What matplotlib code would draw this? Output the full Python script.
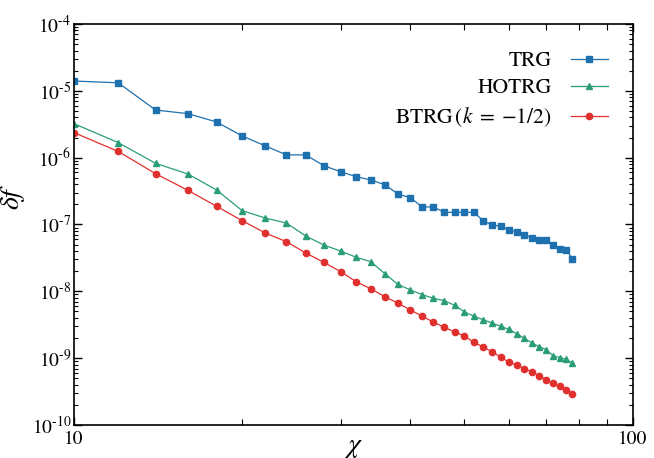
import numpy as np
import matplotlib
matplotlib.use("Agg")
import matplotlib.pyplot as plt
from matplotlib.ticker import FuncFormatter, NullFormatter, LogLocator

chi = list(range(10, 80, 2))

trg = [1.40e-5, 1.32e-5, 5.16e-6, 4.55e-6, 3.42e-6, 2.11e-6, 1.50e-6, 1.10e-6, 1.10e-6, 7.59e-7,
       6.16e-7, 5.19e-7, 4.63e-7, 3.94e-7, 2.86e-7, 2.52e-7, 1.83e-7, 1.83e-7, 1.52e-7, 1.52e-7,
       1.52e-7, 1.52e-7, 1.14e-7, 9.82e-8, 9.48e-8, 8.36e-8, 7.80e-8, 7.03e-8, 6.34e-8, 5.92e-8,
       5.92e-8, 4.99e-8, 4.35e-8, 4.20e-8, 3.08e-8]

hotrg = [3.23e-6, 1.68e-6, 8.22e-7, 5.69e-7, 3.28e-7, 1.61e-7, 1.25e-7, 1.05e-7, 6.73e-8, 4.93e-8,
         4.01e-8, 3.23e-8, 2.77e-8, 1.84e-8, 1.27e-8, 1.05e-8, 8.91e-9, 7.87e-9, 7.25e-9, 6.18e-9,
         4.91e-9, 4.23e-9, 3.76e-9, 3.36e-9, 3.00e-9, 2.70e-9, 2.32e-9, 1.98e-9, 1.69e-9, 1.48e-9,
         1.34e-9, 1.09e-9, 1.02e-9, 9.61e-10, 8.46e-10]

btrg = [2.37e-6, 1.24e-6, 5.75e-7, 3.24e-7, 1.87e-7, 1.14e-7, 7.46e-8, 5.53e-8, 3.74e-8, 2.72e-8,
        1.97e-8, 1.39e-8, 1.09e-8, 8.30e-9, 6.68e-9, 5.25e-9, 4.27e-9, 3.44e-9, 2.92e-9, 2.46e-9,
        2.14e-9, 1.72e-9, 1.47e-9, 1.25e-9, 1.04e-9, 8.75e-10, 7.89e-10, 6.95e-10, 6.27e-10, 5.46e-10,
        4.75e-10, 4.20e-10, 3.79e-10, 3.34e-10, 2.91e-10]

labels = ["TRG", "HOTRG", r"BTRG$\,(k\;=\;{-}1/2)$"]

plt.rcParams['font.family'] = 'STIXGeneral'
plt.rcParams['mathtext.fontset'] = 'stix'

fig = plt.figure(figsize=(6.54, 4.58), dpi=100)
ax = fig.add_axes([0.1131, 0.0721, 0.8543, 0.8755])

ax.plot(chi, trg, '-s', color='#1f70ae', ms=4.8, lw=0.9, label=labels[0])
ax.plot(chi, hotrg, '-^', color='#2a9d78', ms=4.0, lw=0.9, label=labels[1])
ax.plot(chi, btrg, '-o', color='#e0302e', ms=4.5, lw=0.9, label=labels[2])

ax.set_xscale('log')
ax.set_yscale('log')
ax.set_xlim(10, 100)
ax.set_ylim(1e-10, 1e-4)

HYPH = "\u2010"

def yfmt(v, p):
    return "$10^{" + HYPH + "%d}$" % round(-np.log10(v))

ax.xaxis.set_major_formatter(FuncFormatter(lambda v, p: "%d" % round(v)))
ax.xaxis.set_minor_formatter(NullFormatter())
ax.yaxis.set_major_locator(LogLocator(base=10, numticks=20))
ax.yaxis.set_minor_locator(LogLocator(base=10, subs=np.arange(2, 10), numticks=20))
ax.yaxis.set_minor_formatter(NullFormatter())
ax.yaxis.set_major_formatter(FuncFormatter(yfmt))

ax.tick_params(which='both', direction='in', top=True, right=True, labelsize=14)
ax.tick_params(which='major', length=6, width=1)
ax.tick_params(axis='x', which='minor', length=4.5, width=0.8)
ax.tick_params(axis='y', which='minor', length=3, width=0.8)
ax.tick_params(axis='y', which='major', pad=2)
ax.tick_params(axis='x', which='major', pad=4.5)
for s in ax.spines.values():
    s.set_linewidth(1.2)

ax.set_xlabel(r'$\chi$', fontsize=20)
ax.xaxis.set_label_coords(0.5, -0.024)
ax.set_ylabel(r'$\delta f$', fontsize=20, va='center')
ax.yaxis.set_label_coords(-0.110, 0.57)

ax.legend(loc='upper right', frameon=False, markerfirst=False, fontsize=15.5,
          bbox_to_anchor=(0.99, 0.98), handlelength=1.7, handletextpad=0.9,
          labelspacing=0.32)

fig.savefig('out.png', dpi=100)
